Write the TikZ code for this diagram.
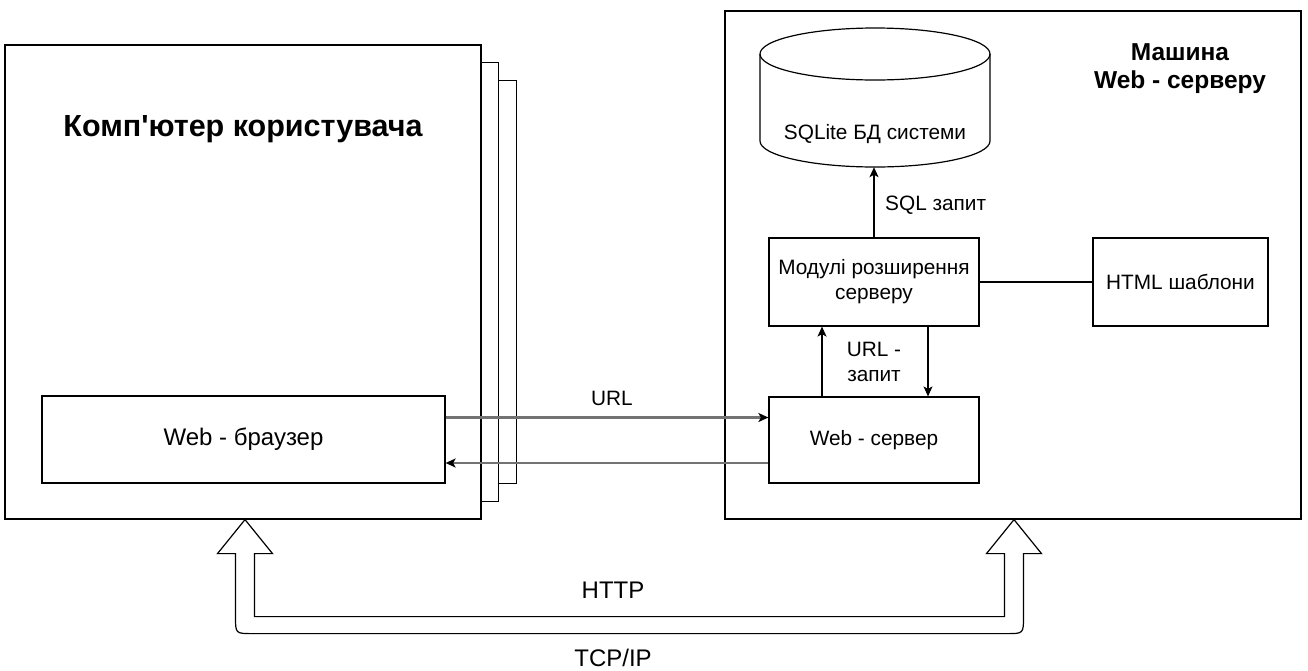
\documentclass[tikz,border=0pt]{standalone}
\usepackage{fontspec}
\setmainfont{Liberation Sans}
\usetikzlibrary{arrows.meta,calc}
\begin{document}
\begin{tikzpicture}[x=1pt,y=-1pt,
  line/.style={line width=1.2pt, draw=black},
  blk/.style={line, rectangle, inner sep=0pt, align=center, font=\fontsize{20.8}{25}\selectfont},
  lbl/.style={inner sep=0pt, align=center, font=\fontsize{20.8}{25}\selectfont},
  big/.style={font=\fontsize{24}{28}\selectfont},
  ttl/.style={inner sep=0pt, align=center, font=\bfseries\fontsize{#1}{28}\selectfont},
  tip/.style={-{Stealth[length=10pt,width=9pt,inset=2.5pt]}},
  darr/.style={line, tip},
  garr/.style={line width=2.2pt, draw=black!55, -{Stealth[length=10pt,width=9pt,inset=2.5pt,black]}}
]
\useasboundingbox (0,0) rectangle (1308,670);

% user computer
\node[blk, minimum width=476pt, minimum height=474pt] (comp) at (243,282) {};
\draw[line] ($(comp.north east)+(0,18)$) -- ++(17,0) |- ($(comp.south east)+(0,-18)$);
\draw[line] ($(comp.north east)+(17,36)$) -- ++(18,0) |- ($(comp.south east)+(17,-36)$);
\node[ttl=30.5] (comptitle) at (243,129) {Комп\textquotesingle ютер користувача};
\node[blk, big, minimum width=403pt, minimum height=87pt] (browser) at (243.5,439.5) {Web - браузер};

% server machine
\node[blk, minimum width=576pt, minimum height=508pt] (srv) at (1013,265) {};
\node[ttl=24.5] (srvtitle) at (1180,69) {Машина\\Web - серверу};

% database cylinder
\node[inner sep=0pt, minimum width=230pt, minimum height=139pt] (db) at (875,97.5) {};
\draw[line] (875,54) ellipse [x radius=115, y radius=26];
\draw[line] (760,54) -- (760,141) arc[start angle=180, end angle=360, x radius=115, y radius=-26] -- (990,54);
\node[lbl] (dbl) at (875,134) {SQLite БД системи};

\node[blk, minimum width=210pt, minimum height=88pt] (mod) at (874,282) {Модулі розширення\\серверу};
\node[blk, minimum width=175pt, minimum height=88pt] (html) at (1180.5,282) {HTML шаблони};
\node[blk, minimum width=210pt, minimum height=86pt] (ws) at (874,440) {Web - сервер};

% connectors
\draw[darr] (mod.north) -- (mod.north |- db.south);
\node[lbl, anchor=west] (sqll) at (885,205) {SQL запит};
\draw[line] (mod.east) -- (html.west);
\draw[darr] ([xshift=-52pt]ws.north) -- ([xshift=-52pt]ws.north |- mod.south);
\draw[darr] ([xshift=54pt]mod.south) -- ([xshift=54pt]mod.south |- ws.north);
\node[lbl] (urlq) at (874,362) {URL -\\запит};

\draw[garr] ([yshift=22pt]browser.east) -- ([yshift=22pt]browser.east -| ws.west);
\draw[garr] ([yshift=-23pt]ws.west) -- ([yshift=-23pt]ws.west -| browser.east);
\node[lbl] (url) at (612,398) {URL};

% HTTP / TCP-IP flex arrow
\coordinate (A) at ([xshift=2pt]comp.south);
\coordinate (B) at ([xshift=1pt]srv.south);
\draw[line, line join=miter]
  (A) -- ($(A)+(27.5,34)$) -- ($(A)+(9.5,34)$) -- ($(A)+(9.5,97)$)
  -- ($(B)+(-9.5,97)$) -- ($(B)+(-9.5,34)$) -- ($(B)+(-27.5,34)$) -- (B)
  -- ($(B)+(27.5,34)$) -- ($(B)+(9.5,34)$) -- ($(B)+(9.5,97)$)
  .. controls ($(B)+(9.5,114)$) .. ($(B)+(-7.5,114)$)
  -- ($(A)+(7.5,114)$)
  .. controls ($(A)+(-9.5,114)$) .. ($(A)+(-9.5,97)$)
  -- ($(A)+(-9.5,34)$) -- ($(A)+(-27.5,34)$) -- cycle;
\node[lbl, big] (http) at (613,590) {HTTP};
\node[lbl, big] (tcp) at (613,658) {TCP/IP};
\end{tikzpicture}
\end{document}
